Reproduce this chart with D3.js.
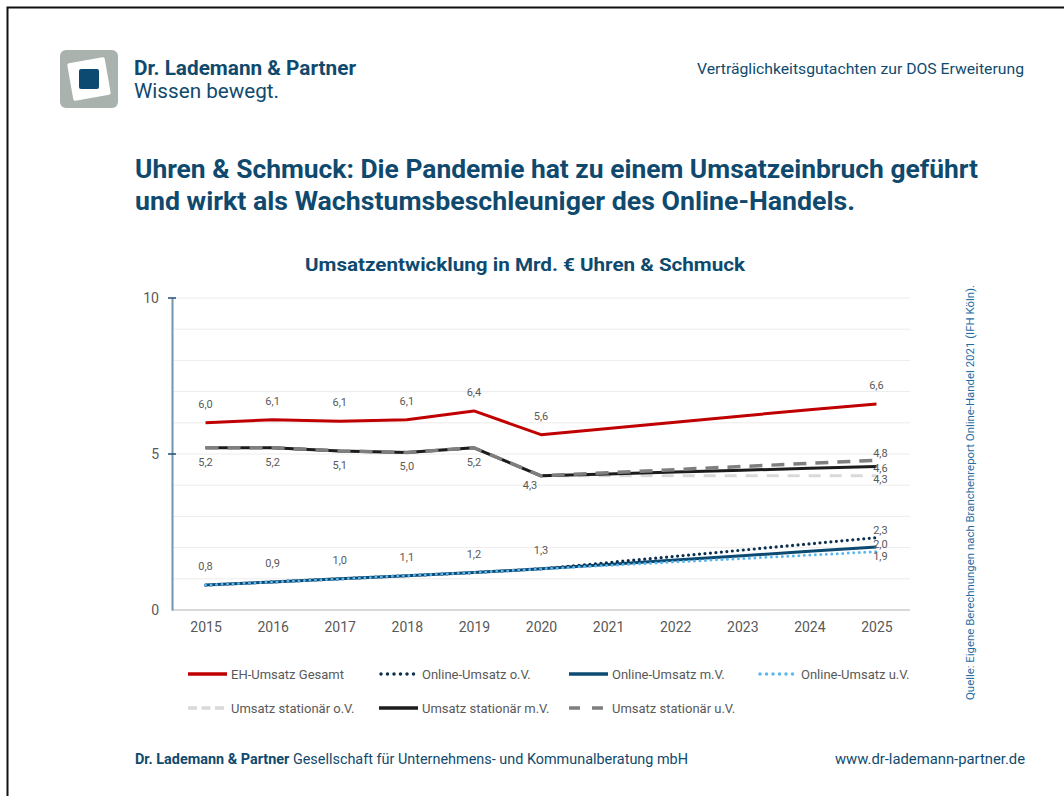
<!DOCTYPE html>
<html>
<head>
<meta charset="utf-8">
<script src="https://cdn.jsdelivr.net/npm/d3@7"></script>
<style>
  body { margin: 0; background: #fff; }
  svg { display: block; }
  text { font-family: "Roboto", "Noto Sans", sans-serif; }
</style>
</head>
<body>
<div id="chart"></div>
<script>
var years = ["2015","2016","2017","2018","2019","2020","2021","2022","2023","2024","2025"];

var ehGesamt        = [6.0, 6.1, 6.05, 6.1, 6.38, 5.62, 5.82, 6.02, 6.22, 6.42, 6.6];
var onlineOV        = [0.8, 0.9, 1.0, 1.1, 1.2, 1.32, 1.52, 1.72, 1.92, 2.12, 2.32];
var onlineMV        = [0.8, 0.9, 1.0, 1.1, 1.2, 1.32, 1.46, 1.6, 1.74, 1.88, 2.02];
var onlineUV        = [0.8, 0.9, 1.0, 1.1, 1.2, 1.32, 1.43, 1.54, 1.65, 1.76, 1.87];
var stationaerOV    = [5.2, 5.2, 5.1, 5.05, 5.2, 4.3, 4.3, 4.3, 4.3, 4.3, 4.3];
var stationaerMV    = [5.2, 5.2, 5.1, 5.05, 5.2, 4.3, 4.36, 4.42, 4.48, 4.54, 4.6];
var stationaerUV    = [5.2, 5.2, 5.1, 5.05, 5.2, 4.3, 4.4, 4.5, 4.6, 4.7, 4.8];

var ehLabels     = ["6,0","6,1","6,1","6,1","6,4","5,6","","","","","6,6"];
var onlineLabels = ["0,8","0,9","1,0","1,1","1,2","1,3"];
var statLabels   = ["5,2","5,2","5,1","5,0","5,2","4,3"];
var endLabels    = ["4,8", "4,6", "4,3", "2,3", "2,0", "1,9"];

var yTicks = [0, 5, 10];

var series = [
  {name: "EH-Umsatz Gesamt",      values: ehGesamt,     color: "#c00000", width: 3,   dash: null,   cap: "butt",  legDash: null},
  {name: "Online-Umsatz o.V.",    values: onlineOV,     color: "#0b2f4e", width: 3.2, dash: "0,5.5", cap: "round", legDash: "0,6.5"},
  {name: "Online-Umsatz m.V.",    values: onlineMV,     color: "#0d4a72", width: 3,   dash: null,   cap: "butt",  legDash: null},
  {name: "Online-Umsatz u.V.",    values: onlineUV,     color: "#5ab8ee", width: 3,   dash: "0,5.5", cap: "round", legDash: "0,6.5"},
  {name: "Umsatz stationär o.V.", values: stationaerOV, color: "#d9d9d9", width: 3,   dash: "12,9", cap: "butt",  legDash: "9,4.5"},
  {name: "Umsatz stationär m.V.", values: stationaerMV, color: "#1c1c1c", width: 3,   dash: null,   cap: "butt",  legDash: null},
  {name: "Umsatz stationär u.V.", values: stationaerUV, color: "#7f7f7f", width: 3.5, dash: "13,9", cap: "butt",  legDash: "11,12"}
];

var W = 1064, H = 796;
var svg = d3.select("#chart").append("svg").attr("width", W).attr("height", H);

var navy = "#0f4a6e";

// frame
svg.append("path").attr("d", "M7.5,796 V7.5 H1064")
  .attr("fill", "none").attr("stroke", "#111").attr("stroke-width", 2);

// logo
var logo = svg.append("g").attr("transform", "translate(60,50)");
logo.append("rect").attr("width", 58).attr("height", 58).attr("rx", 6).attr("fill", "#aab2ad");
logo.append("rect").attr("x", 10).attr("y", 10).attr("width", 38).attr("height", 38).attr("rx", 2)
  .attr("fill", "#fff").attr("transform", "rotate(-10,29,29)");
logo.append("rect").attr("x", 19).attr("y", 19).attr("width", 20).attr("height", 20).attr("rx", 2)
  .attr("fill", "#0d4a72");

svg.append("text").attr("x", 134).attr("y", 75).attr("fill", navy)
  .style("font-size", "20px").style("font-weight", "bold")
  .attr("textLength", 222).attr("lengthAdjust", "spacingAndGlyphs")
  .text("Dr. Lademann & Partner");
svg.append("text").attr("x", 134).attr("y", 98).attr("fill", navy)
  .style("font-size", "21px")
  .attr("textLength", 145).attr("lengthAdjust", "spacingAndGlyphs")
  .text("Wissen bewegt.");

svg.append("text").attr("x", 1024).attr("y", 74).attr("text-anchor", "end").attr("fill", navy)
  .style("font-size", "14px")
  .attr("textLength", 327).attr("lengthAdjust", "spacingAndGlyphs")
  .text("Verträglichkeitsgutachten zur DOS Erweiterung");

// title
svg.append("text").attr("x", 135).attr("y", 178).attr("fill", navy)
  .style("font-size", "26px").style("font-weight", "bold")
  .attr("textLength", 843).attr("lengthAdjust", "spacingAndGlyphs")
  .text("Uhren & Schmuck: Die Pandemie hat zu einem Umsatzeinbruch geführt");
svg.append("text").attr("x", 135).attr("y", 210).attr("fill", navy)
  .style("font-size", "26px").style("font-weight", "bold")
  .attr("textLength", 720).attr("lengthAdjust", "spacingAndGlyphs")
  .text("und wirkt als Wachstumsbeschleuniger des Online-Handels.");

svg.append("text").attr("x", 525).attr("y", 271).attr("text-anchor", "middle").attr("fill", navy)
  .style("font-size", "19px").style("font-weight", "bold")
  .attr("textLength", 440).attr("lengthAdjust", "spacingAndGlyphs")
  .text("Umsatzentwicklung in Mrd. € Uhren & Schmuck");

// plot
var plotLeft = 172, plotRight = 910, plotTop = 298, plotBottom = 610;
var x = d3.scalePoint().domain(years).range([plotLeft, plotRight]).padding(0.5);
var y = d3.scaleLinear().domain([0, 10]).range([plotBottom, plotTop]);

// gridlines every unit
svg.append("g").selectAll("line").data(d3.range(1, 11)).join("line")
  .attr("x1", plotLeft).attr("x2", plotRight)
  .attr("y1", d => y(d)).attr("y2", d => y(d))
  .attr("stroke", "#ececec").attr("stroke-width", 1);

// x axis
var xAxis = svg.append("g").attr("transform", "translate(0," + plotBottom + ")")
  .call(d3.axisBottom(x).tickSize(0).tickPadding(12));
xAxis.select(".domain").attr("stroke", "#d9d9d9").attr("stroke-width", 2)
  .attr("d", "M" + plotLeft + ",0H" + plotRight);
xAxis.selectAll("text").attr("fill", "#595959").style("font-size", "14px")
  .style("font-family", "Roboto, sans-serif");

// y axis
var yAxis = svg.append("g").attr("transform", "translate(" + plotLeft + ",0)")
  .call(d3.axisLeft(y).tickValues(yTicks).tickSize(0).tickPadding(13));
yAxis.select(".domain").attr("stroke", "#6f96b3").attr("stroke-width", 2);
yAxis.selectAll("text").attr("fill", "#595959").style("font-size", "14px");
svg.append("g").selectAll("line").data(yTicks.filter(d => d > 0)).join("line")
  .attr("x1", plotLeft - 4).attr("x2", plotLeft + 4)
  .attr("y1", d => y(d)).attr("y2", d => y(d))
  .attr("stroke", "#1f4e79").attr("stroke-width", 1.5);

// lines (draw order: stationär, then online, then gesamt)
var line = d3.line().x((d, i) => x(years[i])).y(d => y(d)).curve(d3.curveLinear);
var drawOrder = [4, 5, 6, 2, 1, 3, 0];
drawOrder.forEach(function(k) {
  var s = series[k];
  svg.append("path").datum(s.values)
    .attr("d", line)
    .attr("fill", "none")
    .attr("stroke", s.color)
    .attr("stroke-width", s.width)
    .attr("stroke-dasharray", s.dash)
    .attr("stroke-linecap", s.cap)
    .attr("stroke-linejoin", "round");
});

// data labels
var lab = svg.append("g").style("font-size", "11px").attr("fill", "#595959").attr("text-anchor", "middle");
ehLabels.forEach(function(t, i) {
  if (t) lab.append("text").attr("x", x(years[i])).attr("y", y(ehGesamt[i]) - 15).text(t);
});
onlineLabels.forEach(function(t, i) {
  lab.append("text").attr("x", x(years[i])).attr("y", y(onlineOV[i]) - 15).text(t);
});
statLabels.forEach(function(t, i) {
  var off = i === 5 ? 13 : 18;
  lab.append("text").attr("x", x(years[i]) - (i === 5 ? 11 : 0)).attr("y", y(stationaerMV[i]) + off).text(t);
});
var endY = [457, 472, 483, 534, 548, 560];
endLabels.forEach(function(t, i) {
  lab.append("text").attr("x", x("2025") + 4).attr("y", endY[i]).text(t);
});

// legend
var legendPos = [[188, 674], [379, 674], [569, 674], [758, 674], [188, 708], [379, 708], [569, 708]];
var leg = svg.append("g");
series.forEach(function(s, i) {
  var p = legendPos[i];
  var g = leg.append("g").attr("transform", "translate(" + p[0] + "," + p[1] + ")");
  g.append("line").attr("x1", s.cap === "round" ? 2 : 0).attr("x2", s.cap === "round" ? 37 : 39)
    .attr("y1", 0).attr("y2", 0)
    .attr("stroke", s.color).attr("stroke-width", 3.5)
    .attr("stroke-dasharray", s.legDash)
    .attr("stroke-linecap", s.cap);
  g.append("text").attr("x", 43).attr("y", 5).attr("fill", "#595959")
    .style("font-size", "13px").text(s.name);
});

// source
svg.append("text").attr("transform", "translate(974,700) rotate(-90)")
  .attr("fill", "#1f6da3").style("font-size", "11px")
  .attr("textLength", 415).attr("lengthAdjust", "spacingAndGlyphs")
  .text("Quelle: Eigene Berechnungen nach Branchenreport Online-Handel 2021 (IFH Köln).");

// footer
var foot = svg.append("text").attr("x", 135).attr("y", 764).attr("fill", navy).style("font-size", "14px")
  .attr("textLength", 553).attr("lengthAdjust", "spacingAndGlyphs");
foot.append("tspan").style("font-weight", "bold").text("Dr. Lademann & Partner ");
foot.append("tspan").text("Gesellschaft für Unternehmens- und Kommunalberatung mbH");
svg.append("text").attr("x", 1025).attr("y", 764).attr("text-anchor", "end").attr("fill", navy)
  .style("font-size", "14px").attr("textLength", 190).attr("lengthAdjust", "spacingAndGlyphs")
  .text("www.dr-lademann-partner.de");
</script>
</body>
</html>
